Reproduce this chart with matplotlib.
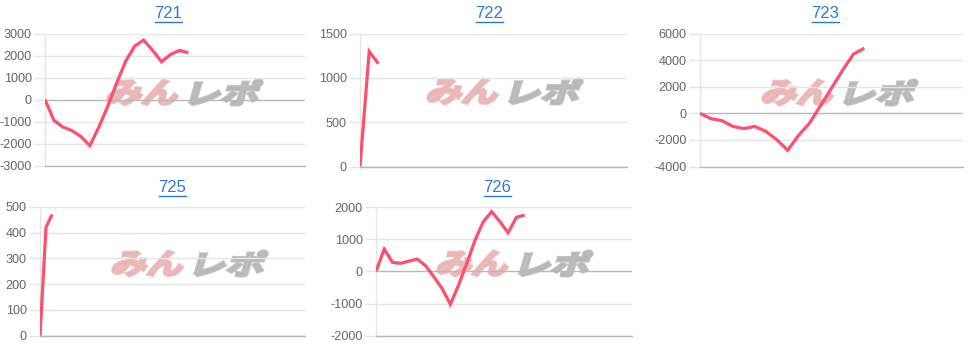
import matplotlib
matplotlib.use("Agg")
import matplotlib.pyplot as plt
from matplotlib.textpath import TextPath
from matplotlib.patches import PathPatch
from matplotlib.font_manager import FontProperties
from matplotlib.transforms import Affine2D
import numpy as np

W, H = 977, 346

# ---- data ----
titles = ["721", "722", "723", "725", "726"]
s721 = [0, -950, -1250, -1415, -1675, -2100, -1260, -300, 760, 1750, 2435, 2710, 2240, 1720, 2055, 2240, 2130]
s722 = [0, 1300, 1160]
s723 = [0, -400, -550, -980, -1150, -980, -1350, -1980, -2780, -1650, -730, 580, 1900, 3230, 4460, 4910]
s725 = [0, 420, 470]
s726 = [0, 690, 280, 250, 320, 380, 175, -165, -530, -1025, -425, 250, 975, 1545, 1855, 1545, 1200, 1680, 1750]
series = [s721, s722, s723, s725, s726]
n_categories = [30, 30, 25, 45, 32]
y_ticks = [
    [-3000, -2000, -1000, 0, 1000, 2000, 3000],
    [0, 500, 1000, 1500],
    [-4000, -2000, 0, 2000, 4000, 6000],
    [0, 100, 200, 300, 400, 500],
    [-2000, -1000, 0, 1000, 2000],
]

# ---- layout (pixels) ----
boxes = [  # left, right, top, bottom
    (45, 305, 33.7, 165.5),
    (360, 627, 33.7, 166.5),
    (700, 963, 33.7, 166.5),
    (40, 305, 206.7, 335.7),
    (376, 632, 207, 335.7),
]
title_pos = [(168, 14, 22), (489.5, 14, 22), (825.5, 14, 22), (172.5, 188, 196), (497.5, 188, 196)]
logo_pos = [(105, 106), (425, 105), (760, 106), (110, 277), (435, 277)]

LINE = "#ff4f6f"
GRID = "#e5e5e5"
ZERO = "#b8b8b8"
TICKC = "#666666"
LINK = "#2a7ad5"

fig = plt.figure(figsize=(W / 100, H / 100), dpi=100)
fig.patch.set_facecolor("white")

overlay = fig.add_axes([0, 0, 1, 1], zorder=0)
overlay.set_xlim(0, W)
overlay.set_ylim(0, H)
overlay.axis("off")

fp_logo = FontProperties(family="Noto Sans CJK JP", weight="bold")


def draw_word(text, x0, ybot, w, h, color, slant=16):
    tp = TextPath((0, 0), text, size=100, prop=fp_logo)
    bb = tp.get_extents()
    sh = np.tan(np.radians(slant)) * h
    tr = (Affine2D().translate(-bb.x0, -bb.y0)
          .scale((w - sh) / bb.width, h / bb.height)
          .skew_deg(slant, 0)
          .translate(x0, H - ybot))
    overlay.add_patch(PathPatch(tr.transform_path(tp), facecolor=color,
                                edgecolor=color, linewidth=2.2,
                                joinstyle="miter", alpha=0.85))


for (lx, lb) in logo_pos:
    draw_word("みん", lx + 1, lb - 1, 76, 25, "#eab3b3")
    draw_word("レポ", lx + 84, lb - 1, 74, 25, "#b5b5b5")

for i, (l, r, t, b) in enumerate(boxes):
    ax = fig.add_axes([l / W, 1 - b / H, (r - l) / W, (b - t) / H], zorder=1)
    ax.set_facecolor("none")
    vals = series[i]
    ax.plot(range(len(vals)), vals, color=LINE, lw=2.3, solid_joinstyle="miter",
            solid_capstyle="butt", zorder=3)
    ax.set_xlim(0, n_categories[i] - 1)
    yt = y_ticks[i]
    ax.set_ylim(yt[0], yt[-1])
    ax.set_yticks(yt)
    ax.set_yticklabels([str(v) for v in yt])
    ax.set_xticks([])
    for v in yt:
        ax.axhline(v, color=ZERO if v == 0 else GRID, lw=1, zorder=1)
    for s in ["top", "right"]:
        ax.spines[s].set_visible(False)
    ax.spines["left"].set_color(GRID)
    ax.spines["left"].set_linewidth(1)
    ax.spines["bottom"].set_color(ZERO)
    ax.spines["bottom"].set_linewidth(1)
    ax.tick_params(axis="y", length=8, width=1, color=GRID, pad=1.5,
                   labelsize=9.1, labelcolor=TICKC)
    for lab in ax.get_yticklabels():
        lab.set_fontfamily("Liberation Sans")
    # title as link
    tx, ty, uy = title_pos[i]
    overlay.text(tx, H - ty, titles[i], ha="center", va="center",
                 fontsize=12, color=LINK, family="Liberation Sans")
    overlay.plot([tx - 13.5, tx + 13.5], [H - uy, H - uy], color=LINK, lw=1)

fig.savefig("out.png", dpi=100, facecolor="white")
